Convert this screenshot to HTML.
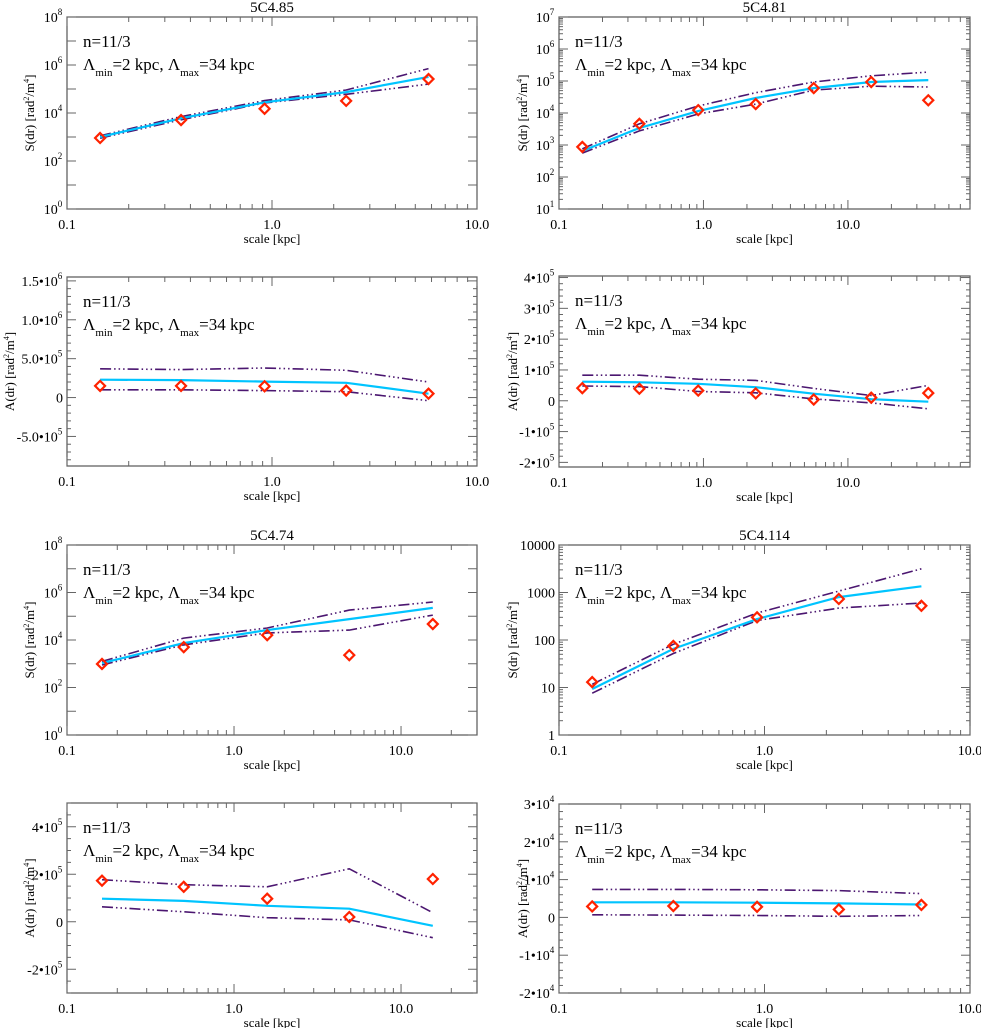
<!DOCTYPE html>
<html><head><meta charset="utf-8"><style>
html,body{margin:0;padding:0;background:#fff;}
svg{display:block;}
svg text, svg tspan{font-family:"Liberation Serif","DejaVu Serif",serif;}
</style></head><body>
<svg id="fig" width="981" height="1028" viewBox="0 0 981 1028" xmlns="http://www.w3.org/2000/svg"></svg>
<script>
// ---- data ----
const xA = [0.145,0.36,0.92,2.3,5.8];
const xB = [0.145,0.36,0.92,2.3,5.8,14.5,36];
const xC = [0.162,0.5,1.58,4.9,15.5];

const p1_obs=[910,5100,15000,32000,260000];
const p1_model=[1000,6000,28000,74000,320000];
const p1_up=[1120,7100,33000,91000,710000];
const p1_lo=[890,5200,26000,60000,160000];

const p2_obs=[870,4600,12300,19000,60000,93000,25000];
const p2_model=[650,3400,11500,29500,60000,93000,107000];
const p2_up=[760,4600,16600,43000,93000,145000,190000];
const p2_lo=[560,2750,9300,19000,52000,69000,65000];

const p3_obs=[1.5e5,1.5e5,1.45e5,0.9e5,0.5e5];
const p3_model=[2.3e5,2.25e5,2.05e5,1.9e5,0.5e5];
const p3_up=[3.7e5,3.6e5,3.8e5,3.5e5,2.0e5];
const p3_lo=[1.0e5,1.0e5,0.9e5,0.75e5,-0.4e5];

const p4_obs=[4.1e4,3.9e4,3.3e4,2.4e4,0.4e4,1.0e4,2.5e4];
const p4_model=[6.2e4,6.0e4,5.5e4,4.4e4,2.3e4,0.5e4,-0.3e4];
const p4_up=[8.3e4,8.3e4,7.0e4,6.6e4,4.0e4,1.7e4,5.0e4];
const p4_lo=[4.8e4,4.6e4,3.0e4,2.6e4,0.6e4,-0.7e4,-2.6e4];

const p5_obs=[980,5000,16000,2300,47000];
const p5_model=[1070,7400,26000,76000,224000];
const p5_up=[1260,12000,32000,182000,400000];
const p5_lo=[890,6200,20000,26000,112000];

const p6_obs=[13,75,300,730,525];
const p6_model=[9.3,65,275,800,1350];
const p6_up=[11.7,81,370,1070,3160];
const p6_lo=[7.6,52,257,470,600];

const p7_obs=[1.73e5,1.47e5,0.97e5,0.2e5,1.8e5];
const p7_model=[0.97e5,0.88e5,0.67e5,0.55e5,-0.17e5];
const p7_up=[1.77e5,1.56e5,1.47e5,2.23e5,0.38e5];
const p7_lo=[0.63e5,0.42e5,0.17e5,0.08e5,-0.67e5];

const p8_obs=[2.9e3,3.0e3,2.8e3,2.1e3,3.3e3];
const p8_model=[4.0e3,4.0e3,3.9e3,3.7e3,3.4e3];
const p8_up=[7.4e3,7.4e3,7.3e3,7.1e3,6.3e3];
const p8_lo=[0.7e3,0.6e3,0.5e3,0.3e3,0.5e3];

const xTicks=[0.1,1,10];
const xTickLabels=["0.1","1.0","10.0"];
const yT_log8=[1,100,1e4,1e6,1e8];
const yL_log8=[["10","0"],["10","2"],["10","4"],["10","6"],["10","8"]];
const yT_log7=[10,100,1e3,1e4,1e5,1e6,1e7];
const yL_log7=[["10","1"],["10","2"],["10","3"],["10","4"],["10","5"],["10","6"],["10","7"]];
const yT_p3=[-5e5,0,5e5,1e6,1.5e6];
const yL_p3=[["-5.0•10","5"],["0",""],["5.0•10","5"],["1.0•10","6"],["1.5•10","6"]];
const yT_p4=[-2e5,-1e5,0,1e5,2e5,3e5,4e5];
const yL_p4=[["-2•10","5"],["-1•10","5"],["0",""],["1•10","5"],["2•10","5"],["3•10","5"],["4•10","5"]];
const yT_p6=[1,10,100,1000,10000];
const yL_p6=[["1",""],["10",""],["100",""],["1000",""],["10000",""]];
const yT_p7=[-2e5,0,2e5,4e5];
const yL_p7=[["-2•10","5"],["0",""],["2•10","5"],["4•10","5"]];
const yT_p8=[-2e4,-1e4,0,1e4,2e4,3e4];
const yL_p8=[["-2•10","4"],["-1•10","4"],["0",""],["1•10","4"],["2•10","4"],["3•10","4"]];

const NS="http://www.w3.org/2000/svg";
const svg=document.getElementById('fig');
const FF='"Liberation Serif", "DejaVu Serif", serif';
function mk(tag,attrs,parent){const e=document.createElementNS(NS,tag);for(const k in attrs)e.setAttribute(k,attrs[k]);if(tag==='text'){e.style.fontFamily=FF;}(parent||svg).appendChild(e);return e;}

function panel(cfg){
  const g=mk('g',{});
  
  
  const {L,R,T,B}=cfg;
  const lx0=Math.log10(cfg.xr[0]),lx1=Math.log10(cfg.xr[1]);
  const X=v=>L+(Math.log10(v)-lx0)/(lx1-lx0)*(R-L);
  let Y;
  if(cfg.ylog){const a=Math.log10(cfg.yr[0]),b=Math.log10(cfg.yr[1]);Y=v=>B-(Math.log10(v)-a)/(b-a)*(B-T);}
  else{Y=v=>B-(v-cfg.yr[0])/(cfg.yr[1]-cfg.yr[0])*(B-T);}
  const fr=mk('rect',{x:L,y:T,width:R-L,height:B-T,fill:'none',stroke:'#555','stroke-width':1.2},g);
  
  
  const tk=mk('g',{stroke:'#666','stroke-width':1},g);
  
  
  for(let d=Math.floor(lx0);d<=Math.ceil(lx1);d++){
    for(let m=1;m<10;m++){const v=m*Math.pow(10,d);if(v<cfg.xr[0]-1e-9||v>cfg.xr[1])continue;
      const x=X(v),len=m==1?9:5;
      mk('line',{x1:x,y1:B,x2:x,y2:B-len},tk);mk('line',{x1:x,y1:T,x2:x,y2:T+len},tk);}
  }
  if(cfg.ylog){
    const a=Math.log10(cfg.yr[0]),b=Math.log10(cfg.yr[1]);
    for(let d=a;d<=b;d++){
      const y=Y(Math.pow(10,d));
      mk('line',{x1:L,y1:y,x2:L+9,y2:y},tk);mk('line',{x1:R,y1:y,x2:R-9,y2:y},tk);
      if(cfg.yminor&&d<b){for(let m=2;m<10;m++){const yy=Y(m*Math.pow(10,d));
        mk('line',{x1:L,y1:yy,x2:L+4,y2:yy},tk);mk('line',{x1:R,y1:yy,x2:R-4,y2:yy},tk);}}
    }
  } else {
    const st=cfg.yT[1]-cfg.yT[0];
    const ms=st/cfg.ysub;
    for(let v=Math.ceil(cfg.yr[0]/ms)*ms;v<=cfg.yr[1];v+=ms){
      const y=Y(v);const major=Math.abs(Math.round(v/st)*st-v)<ms*0.1;const len=major?9:4;
      mk('line',{x1:L,y1:y,x2:L+len,y2:y},tk);mk('line',{x1:R,y1:y,x2:R-len,y2:y},tk);}
  }
  xTicks.forEach((v,i)=>{if(v>cfg.xr[1])return;
    const t=mk('text',{x:X(v),y:B+20,'font-size':14,'text-anchor':'middle',fill:'#000'},g);
    t.textContent=xTickLabels[i];
    
    
  });
  cfg.yT.forEach((v,i)=>{
    const lab=cfg.yL[i];
    const t=mk('text',{x:L-4,y:Y(v)+5,'font-size':14,'text-anchor':'end',fill:'#000'},g);
    
    
    const s1=mk('tspan',{},t);s1.textContent=lab[0];
    if(lab[1]!==""){const s2=mk('tspan',{dy:-7,'font-size':9},t);s2.textContent=lab[1];
      const s3=mk('tspan',{dy:7,'font-size':9},t);s3.textContent="\u200a";}
  });
  const xt=mk('text',{x:(L+R)/2,y:B+34,'font-size':13,'text-anchor':'middle'},g);
  xt.textContent='scale [kpc]';
  
  
  const yx=cfg.ytx,yy=(T+B)/2;
  const yt=mk('text',{x:yx,y:yy,'font-size':13,'text-anchor':'middle',transform:`rotate(-90 ${yx} ${yy})`},g);
  
  
  const a1=mk('tspan',{},yt);a1.textContent=cfg.ytitle+' [rad';
  const a2=mk('tspan',{dy:-5,'font-size':8},yt);a2.textContent='2';
  const a3=mk('tspan',{dy:5},yt);a3.textContent='/m';
  const a4=mk('tspan',{dy:-5,'font-size':8},yt);a4.textContent='4';
  const a5=mk('tspan',{dy:5},yt);a5.textContent=']';
  if(cfg.title){const tt=mk('text',{x:(L+R)/2,y:T-5,'font-size':15,'text-anchor':'middle'},g);
    tt.textContent=cfg.title;
    
    }
  const n1=mk('text',{x:L+16,y:T+30,'font-size':17},g);n1.textContent='n=11/3';
  
  
  const n2=mk('text',{x:L+16,y:T+53,'font-size':17},g);
  
  
  [['Λ',0,17],['min',6,11],['=2 kpc, Λ',-6,17],['max',6,11],['=34 kpc',-6,17]].forEach(p=>{const s=mk('tspan',{dy:p[1],'font-size':p[2]},n2);s.textContent=p[0];});
  const line=(arr,name,attrs)=>{const pts=cfg.x.map((xv,i)=>X(xv).toFixed(1)+','+Y(arr[i]).toFixed(1)).join(' ');
    const pl=mk('polyline',Object.assign({points:pts,fill:'none'},attrs),g);
    
    };
  const dash={stroke:'#4b1670','stroke-width':1.6,'stroke-dasharray':'11 3 1.5 3 1.5 3 1.5 3'};
  line(cfg.up,'upper-bound-line',dash);
  line(cfg.lo,'lower-bound-line',dash);
  line(cfg.model,'model-line',{stroke:'#00c4ff','stroke-width':2.2});
  cfg.obs.forEach((v,i)=>{const cx=X(cfg.x[i]),cy=Y(v),r=5;
    const d=mk('polygon',{points:`${cx},${cy-r} ${cx+r},${cy} ${cx},${cy+r} ${cx-r},${cy}`,fill:'none',stroke:'#ff2200','stroke-width':2.2},g);
    
    });
}

panel({name:'panel-5c4-85-s',title:'5C4.85',L:67,R:477,T:17,B:209,xr:[0.1,10],ylog:true,yr:[1,1e8],yT:yT_log8,yL:yL_log8,ytitle:'S(dr)',ytx:34,x:xA,obs:p1_obs,model:p1_model,up:p1_up,lo:p1_lo});
panel({name:'panel-5c4-81-s',title:'5C4.81',L:559,R:970,T:17,B:209,xr:[0.1,70],ylog:true,yr:[10,1e7],yT:yT_log7,yL:yL_log7,yminor:true,ytitle:'S(dr)',ytx:527,x:xB,obs:p2_obs,model:p2_model,up:p2_up,lo:p2_lo});
panel({name:'panel-5c4-85-a',L:67,R:477,T:277,B:466,xr:[0.1,10],ylog:false,yr:[-0.88e6,1.55e6],ysub:5,yT:yT_p3,yL:yL_p3,ytitle:'A(dr)',ytx:14,x:xA,obs:p3_obs,model:p3_model,up:p3_up,lo:p3_lo});
panel({name:'panel-5c4-81-a',L:559,R:970,T:276,B:467,xr:[0.1,70],ylog:false,yr:[-2.15e5,4.05e5],ysub:5,yT:yT_p4,yL:yL_p4,ytitle:'A(dr)',ytx:517,x:xB,obs:p4_obs,model:p4_model,up:p4_up,lo:p4_lo});
panel({name:'panel-5c4-74-s',title:'5C4.74',L:67,R:477,T:545,B:735,xr:[0.1,28.5],ylog:true,yr:[1,1e8],yT:yT_log8,yL:yL_log8,ytitle:'S(dr)',ytx:34,x:xC,obs:p5_obs,model:p5_model,up:p5_up,lo:p5_lo});
panel({name:'panel-5c4-114-s',title:'5C4.114',L:559,R:970,T:545,B:735,xr:[0.1,10],ylog:true,yr:[1,1e4],yT:yT_p6,yL:yL_p6,yminor:true,ytitle:'S(dr)',ytx:517,x:xA,obs:p6_obs,model:p6_model,up:p6_up,lo:p6_lo});
panel({name:'panel-5c4-74-a',L:67,R:477,T:803,B:993,xr:[0.1,28.5],ylog:false,yr:[-3e5,5e5],ysub:4,yT:yT_p7,yL:yL_p7,ytitle:'A(dr)',ytx:34,x:xC,obs:p7_obs,model:p7_model,up:p7_up,lo:p7_lo});
panel({name:'panel-5c4-114-a',L:559,R:970,T:804,B:993,xr:[0.1,10],ylog:false,yr:[-2e4,3e4],ysub:5,yT:yT_p8,yL:yL_p8,ytitle:'A(dr)',ytx:527,x:xA,obs:p8_obs,model:p8_model,up:p8_up,lo:p8_lo});
</script>
</body></html>
